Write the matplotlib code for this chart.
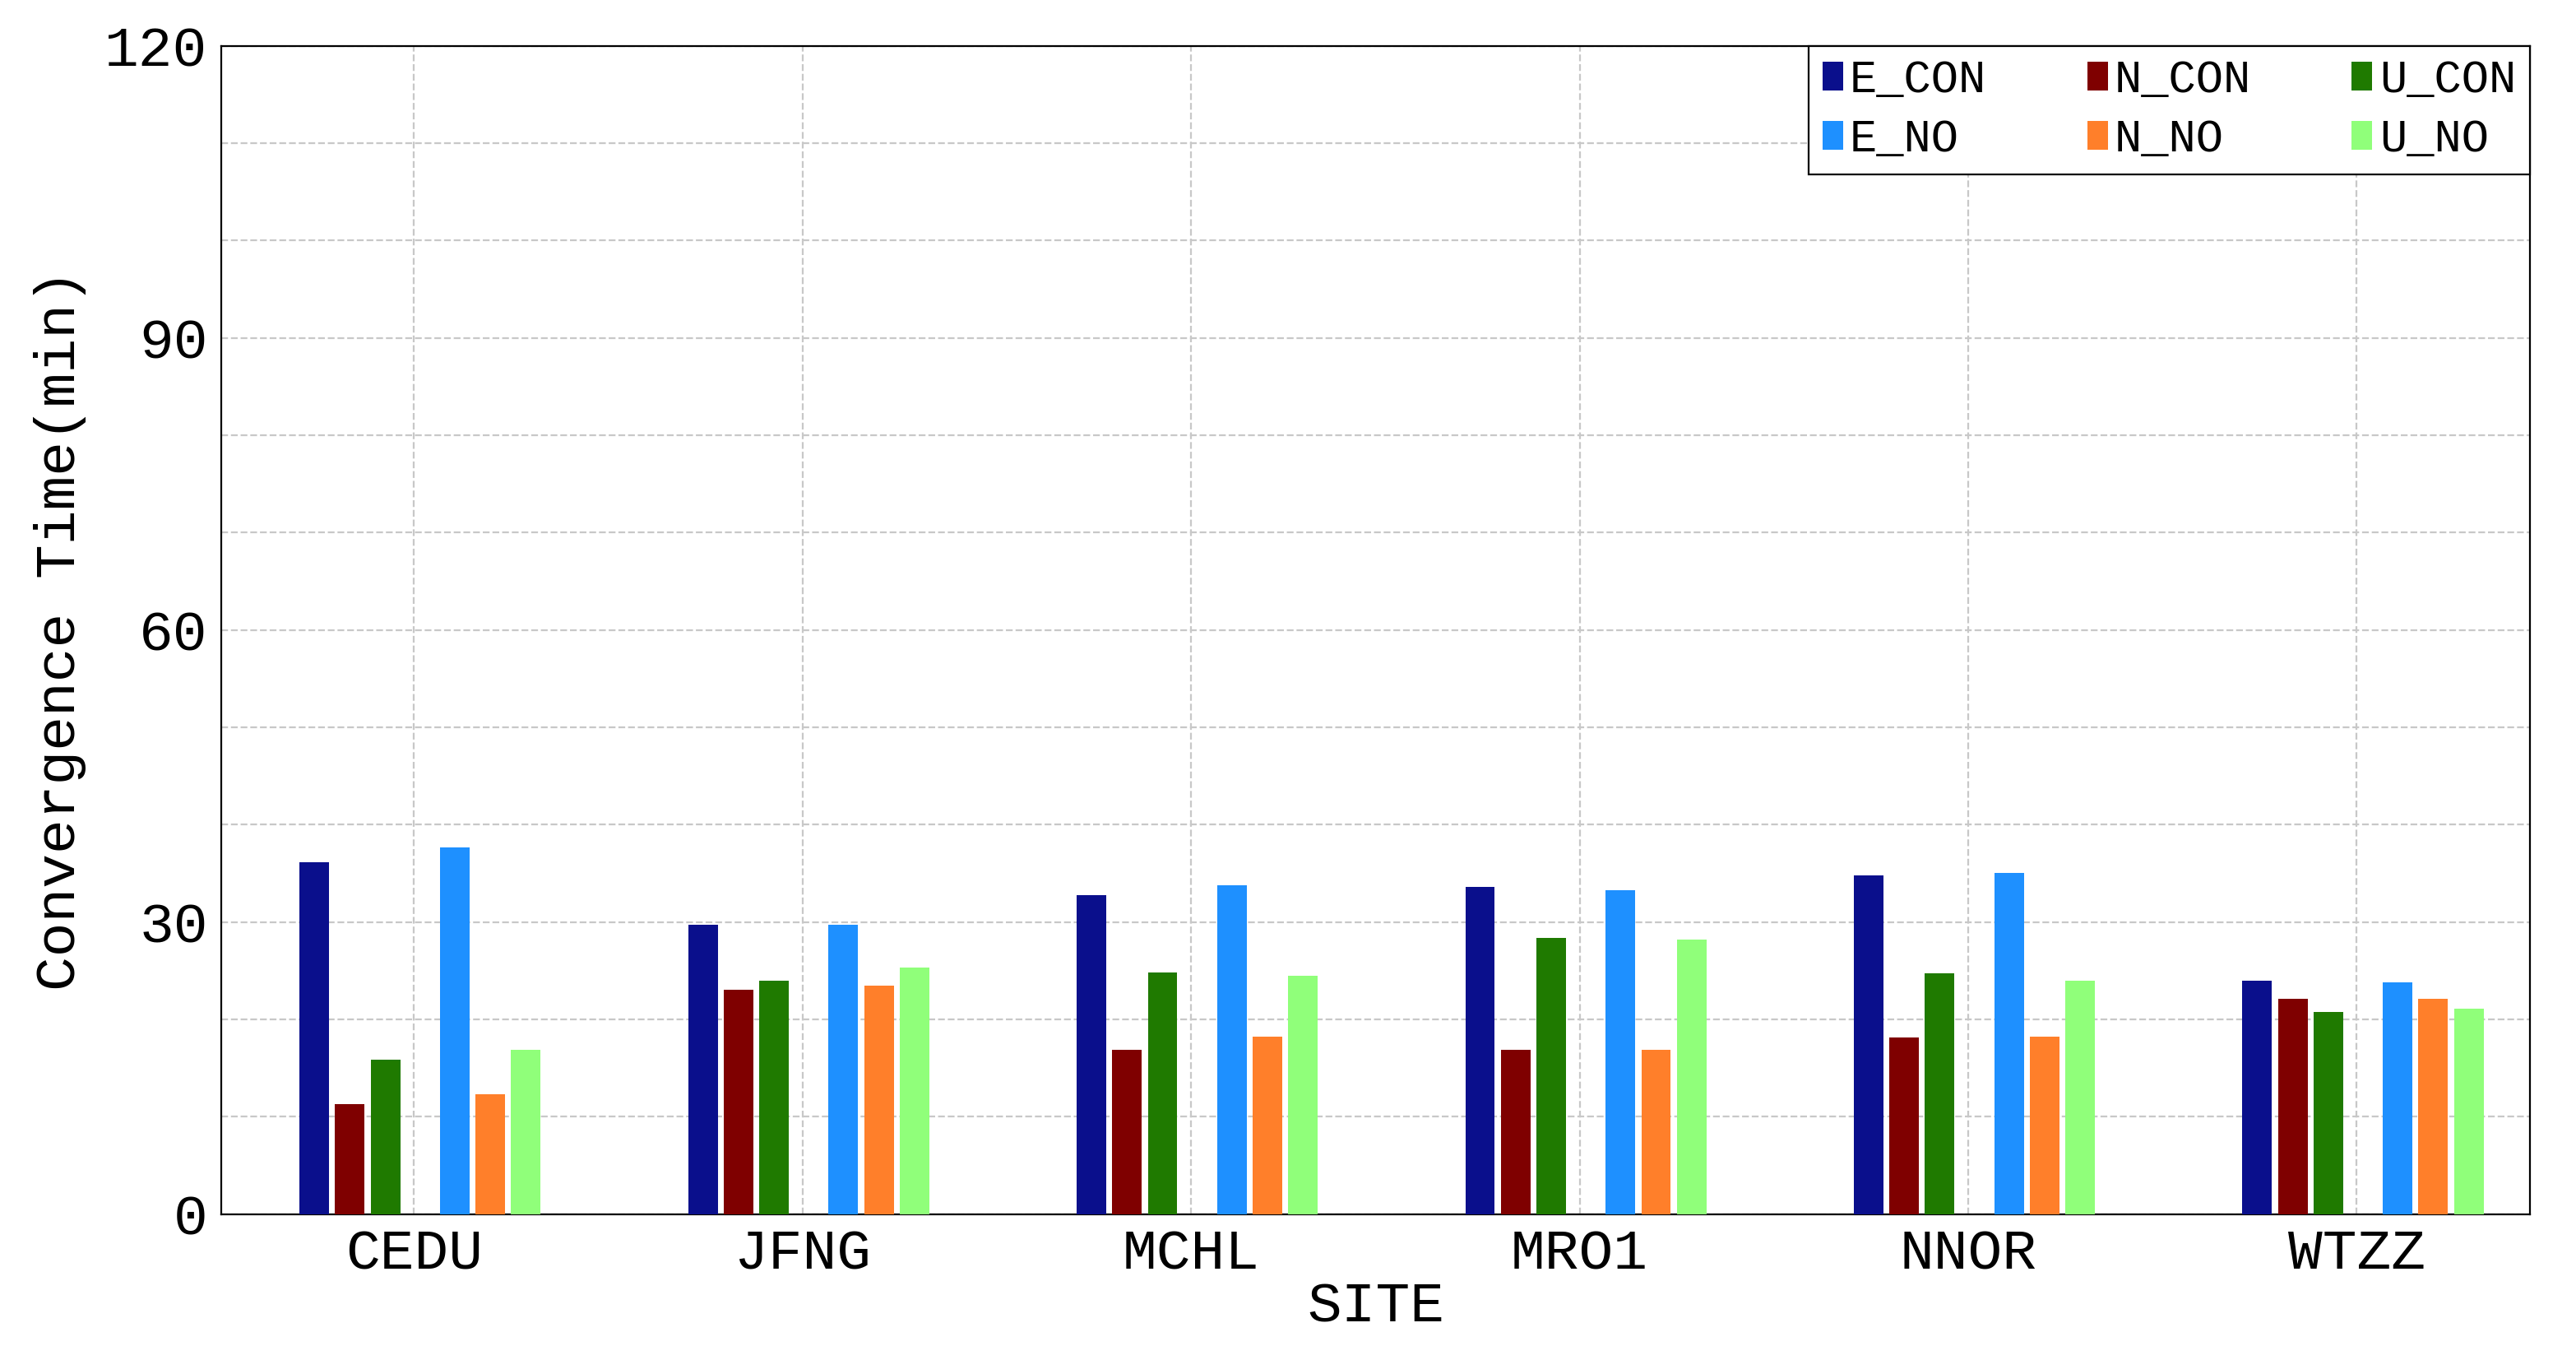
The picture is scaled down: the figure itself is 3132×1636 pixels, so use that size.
import matplotlib
matplotlib.use("Agg")
import matplotlib.pyplot as plt
import numpy as np

sites = ["CEDU", "JFNG", "MCHL", "MRO1", "NNOR", "WTZZ"]
E_CON = [36.1, 29.7, 32.8, 33.6, 34.8, 24.0]
N_CON = [11.3, 23.0, 16.9, 16.9, 18.1, 22.1]
U_CON = [15.9, 24.0, 24.8, 28.4, 24.7, 20.8]
E_NO = [37.7, 29.7, 33.8, 33.3, 35.0, 23.8]
N_NO = [12.3, 23.5, 18.2, 16.9, 18.2, 22.1]
U_NO = [16.9, 25.3, 24.5, 28.2, 24.0, 21.1]

series = [("E_CON", E_CON, "#0a0f8c"), ("N_CON", N_CON, "#7f0000"), ("U_CON", U_CON, "#1f7a00"),
          ("E_NO", E_NO, "#1e90ff"), ("N_NO", N_NO, "#ff7f2a"), ("U_NO", U_NO, "#90ff7a")]
offsets = [-2.8, -1.8, -0.8, 1.15, 2.15, 3.15]
step = 0.0915
w = 0.076

plt.rcParams['font.family'] = ['Liberation Mono', 'DejaVu Sans Mono']
fig = plt.figure(figsize=(15.66, 8.18), dpi=200)
ax = fig.add_axes([0.086, 0.098, 0.896, 0.868])
x = np.arange(len(sites))
handles = []
for (name, vals, c), o in zip(series, offsets):
    handles.append(ax.bar(x + o * step, vals, width=w, color=c, label=name, zorder=3))
ax.set_xlim(-0.495, 5.445)
ax.set_ylim(0, 120)
ax.set_yticks([0, 30, 60, 90, 120])
ax.set_yticks(np.arange(0, 121, 10), minor=True)
ax.set_xticks(x)
ax.set_xticklabels(sites)
ax.tick_params(labelsize=25, length=0, which='both', pad=6)
ax.grid(True, which='both', axis='y', linestyle='--', color='#c8c8c8', linewidth=0.8)
ax.grid(True, which='major', axis='x', linestyle='--', color='#c8c8c8', linewidth=0.8)
ax.set_xlabel("SITE", fontsize=25, labelpad=0)
ax.set_ylabel("Convergence Time(min)", fontsize=25, labelpad=8)
order = [0, 3, 1, 4, 2, 5]
leg = ax.legend([handles[i] for i in order], [series[i][0] for i in order],
                ncol=3, loc='upper right', fontsize=20, fancybox=False, framealpha=1,
                edgecolor='black', handlelength=0.45, handleheight=0.6, handletextpad=0.15,
                columnspacing=2.2, borderaxespad=0.0, labelspacing=0.35, borderpad=0.3)
leg.get_frame().set_linewidth(0.8)
fig.savefig("out.png", dpi=200)
